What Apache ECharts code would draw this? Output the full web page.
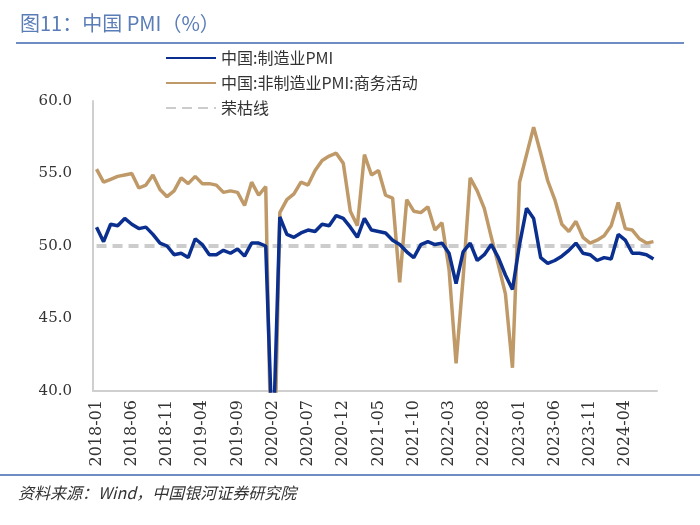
<!DOCTYPE html>
<html>
<head>
<meta charset="utf-8">
<script src="https://cdn.jsdelivr.net/npm/echarts@6/dist/echarts.min.js"></script>
<style>
  body { margin: 0; background: #fff; }
  #main { width: 700px; height: 525px; }
</style>
</head>
<body>
<div id="main"></div>
<script>
  // 月份 2018-01 ~ 2024-08
  var months = [];
  for (var y = 2018; y <= 2024; y++) {
    for (var m = 1; m <= 12; m++) {
      if (y === 2024 && m > 8) break;
      months.push(y + '-' + (m < 10 ? '0' + m : m));
    }
  }

  var mfgPMI = [
    51.3, 50.3, 51.5, 51.4, 51.9, 51.5, 51.2, 51.3, 50.8, 50.2, 50.0, 49.4,
    49.5, 49.2, 50.5, 50.1, 49.4, 49.4, 49.7, 49.5, 49.8, 49.3, 50.2, 50.2,
    50.0, 35.7, 52.0, 50.8, 50.6, 50.9, 51.1, 51.0, 51.5, 51.4, 52.1, 51.9,
    51.3, 50.6, 51.9, 51.1, 51.0, 50.9, 50.4, 50.1, 49.6, 49.2, 50.1, 50.3,
    50.1, 50.2, 49.5, 47.4, 49.6, 50.2, 49.0, 49.4, 50.1, 49.2, 48.0, 47.0,
    50.1, 52.6, 51.9, 49.2, 48.8, 49.0, 49.3, 49.7, 50.2, 49.5, 49.4, 49.0,
    49.2, 49.1, 50.8, 50.4, 49.5, 49.5, 49.4, 49.1
  ];

  var nonMfgBiz = [
    55.3, 54.4, 54.6, 54.8, 54.9, 55.0, 54.0, 54.2, 54.9, 53.9, 53.4, 53.8,
    54.7, 54.3, 54.8, 54.3, 54.3, 54.2, 53.7, 53.8, 53.7, 52.8, 54.4, 53.5,
    54.1, 29.6, 52.3, 53.2, 53.6, 54.4, 54.2, 55.2, 55.9, 56.2, 56.4, 55.7,
    52.4, 51.4, 56.3, 54.9, 55.2, 53.5, 53.3, 47.5, 53.2, 52.4, 52.3, 52.7,
    51.1, 51.6, 48.4, 41.9, 47.8, 54.7, 53.8, 52.6, 50.6, 48.7, 46.7, 41.6,
    54.4, 56.3, 58.2, 56.4, 54.5, 53.2, 51.5, 51.0, 51.7, 50.6, 50.2, 50.4,
    50.7, 51.4, 53.0, 51.2, 51.1, 50.5, 50.2, 50.3
  ];

  var boomBust = months.map(function () { return 50; });

  var serif = '"DejaVu Serif", "Noto Sans CJK SC", serif';
  var cjk = '"Noto Sans CJK SC", sans-serif';

  var myChart = echarts.init(document.getElementById('main'));
  myChart.setOption({
    backgroundColor: '#fff',
    animation: false,
    title: {
      text: '图11：中国 PMI（%）',
      left: 15,
      top: 8,
      textStyle: { color: '#5a7db8', fontSize: 20, fontWeight: 'normal', fontFamily: cjk }
    },
    legend: {
      orient: 'vertical',
      left: 160,
      top: 45,
      itemWidth: 50,
      itemHeight: 14,
      itemGap: 9,
      itemStyle: { opacity: 0 },
      textStyle: { color: '#333', fontSize: 16, fontFamily: cjk },
      data: ['中国:制造业PMI', '中国:非制造业PMI:商务活动', '荣枯线']
    },
    grid: { left: 93, right: 43, top: 101, bottom: 134 },
    xAxis: {
      type: 'category',
      data: months,
      boundaryGap: true,
      axisLine: { lineStyle: { color: '#cfcfcf', width: 2 } },
      axisTick: { show: false },
      axisLabel: {
        interval: 4,
        rotate: 90,
        color: '#333',
        fontSize: 16,
        fontFamily: serif,
        margin: 9
      },
      splitLine: { show: false }
    },
    yAxis: {
      type: 'value',
      min: 40,
      max: 60,
      interval: 5,
      axisLine: { show: true, lineStyle: { color: '#cfcfcf', width: 2 } },
      axisTick: { show: false },
      axisLabel: {
        color: '#333',
        fontSize: 15,
        fontFamily: serif,
        margin: 21,
        formatter: function (v) { return v.toFixed(1); }
      },
      splitLine: { show: false }
    },
    series: [
      {
        name: '荣枯线',
        type: 'line',
        data: boomBust,
        symbol: 'none',
        z: 1,
        lineStyle: { color: '#cccccc', width: 4, type: [10, 6] },
        itemStyle: { color: '#cccccc' }
      },
      {
        name: '中国:非制造业PMI:商务活动',
        type: 'line',
        data: nonMfgBiz,
        symbol: 'none',
        z: 2,
        lineStyle: { color: '#bf9a68', width: 3.5 },
        itemStyle: { color: '#bf9a68' }
      },
      {
        name: '中国:制造业PMI',
        type: 'line',
        data: mfgPMI,
        symbol: 'none',
        z: 3,
        lineStyle: { color: '#0a2f8f', width: 3.5 },
        itemStyle: { color: '#0a2f8f' }
      }
    ],
    graphic: [
      { type: 'line', shape: { x1: 16, y1: 43, x2: 684, y2: 43 }, style: { stroke: '#6f8cc4', lineWidth: 2 } },
      { type: 'line', shape: { x1: 0, y1: 475, x2: 700, y2: 475 }, style: { stroke: '#6f8cc4', lineWidth: 2 } },
      {
        type: 'text',
        left: 18,
        top: 485,
        style: {
          text: '资料来源：Wind，中国银河证券研究院',
          fill: '#333',
          fontSize: 16,
          fontStyle: 'italic',
          fontFamily: cjk
        }
      }
    ]
  });
</script>
</body>
</html>
